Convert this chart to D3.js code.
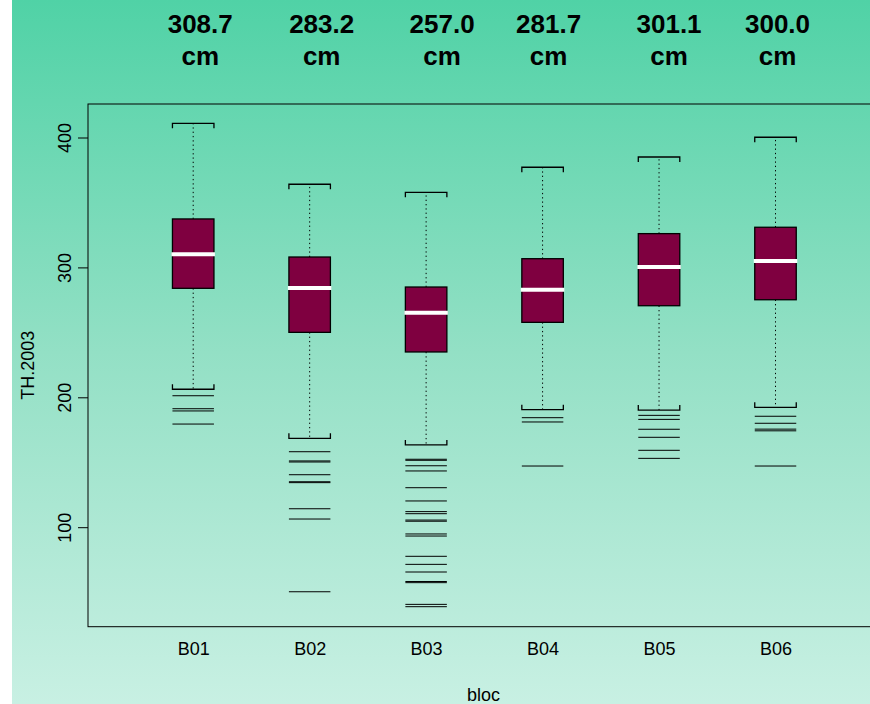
<!DOCTYPE html>
<html>
<head>
<meta charset="utf-8">
<script src="https://cdn.jsdelivr.net/npm/d3@7"></script>
<style>
  html, body { margin: 0; padding: 0; background: #ffffff; }
  svg { display: block; font-family: "Liberation Sans", Arial, Helvetica, sans-serif; }
</style>
</head>
<body>
<svg id="chart" width="870" height="704"></svg>
<script>
// Tree height in 2003 (cm) by bloc: box statistics, outliers and mean labels
const categories  = ["B01", "B02", "B03", "B04", "B05", "B06"];
const meanLabels  = ["308.7", "283.2", "257.0", "281.7", "301.1", "300.0"];
const whiskerLow  = [206.2, 168.4, 163.3, 190.5, 190.2, 192.3];
const q1          = [283.9, 250.0, 234.9, 257.7, 270.5, 275.1];
const medians     = [310.1, 284.1, 265.1, 282.8, 300.3, 304.9];
const q3          = [337.3, 308.0, 284.9, 306.7, 326.0, 330.9];
const whiskerHigh = [410.9, 364.0, 357.8, 377.1, 385.0, 400.2];
const outliersB01 = [201.2, 191.2, 189.5, 179.4];
const outliersB02 = [158.1, 151.0, 150.2, 140.4, 135.0, 134.3, 114.2, 106.3, 50.3];
const outliersB03 = [152.3, 151.5, 147.3, 143.3, 130.4, 120.2, 112.0, 110.4, 105.5, 104.6,
                     94.8, 93.2, 77.6, 71.4, 65.5, 58.2, 57.3, 40.6, 38.8];
const outliersB04 = [184.3, 181.0, 147.1];
const outliersB05 = [186.1, 183.0, 175.4, 169.2, 159.2, 153.0];
const outliersB06 = [185.4, 180.0, 175.5, 174.2, 147.1];
const yTicks      = [100, 200, 300, 400];

const outliers = [outliersB01, outliersB02, outliersB03, outliersB04, outliersB05, outliersB06];

const svg = d3.select("#chart");
const W = 870, H = 704;

// background: white margin on the left, vertical green gradient elsewhere
const defs = svg.append("defs");
const grad = defs.append("linearGradient")
  .attr("id", "bg").attr("x1", 0).attr("y1", 0).attr("x2", 0).attr("y2", 1);
grad.append("stop").attr("offset", "0%").attr("stop-color", "#50d2a6");
grad.append("stop").attr("offset", "50%").attr("stop-color", "#93e0c5");
grad.append("stop").attr("offset", "100%").attr("stop-color", "#c8f0e3");
svg.append("rect").attr("x", 0).attr("y", 0).attr("width", W).attr("height", H).attr("fill", "#ffffff");
svg.append("rect").attr("x", 12).attr("y", 0).attr("width", W - 12).attr("height", H).attr("fill", "url(#bg)");

// plot region
const plot = { left: 88, top: 104, right: 879, bottom: 626.7 };

const x = d3.scaleLinear().domain([1, 6]).range([193.2, 775.5]);
const y = d3.scaleLinear().domain([100, 400]).range([527.2, 137.5]);
const boxW = 41.5;

const groups = categories.map((c, i) => ({
  name: c, pos: i + 1,
  lo: whiskerLow[i], q1: q1[i], med: medians[i], q3: q3[i], hi: whiskerHigh[i],
  out: outliers[i]
}));

const g = svg.append("g");

const box = g.selectAll("g.box").data(groups).join("g").attr("class", "box");

// dotted whiskers
box.append("line")
  .attr("x1", d => x(d.pos)).attr("x2", d => x(d.pos))
  .attr("y1", d => y(d.q3)).attr("y2", d => y(d.hi))
  .attr("stroke", "#000").attr("stroke-width", 1).attr("stroke-dasharray", "1.3,3");
box.append("line")
  .attr("x1", d => x(d.pos)).attr("x2", d => x(d.pos))
  .attr("y1", d => y(d.q1)).attr("y2", d => y(d.lo))
  .attr("stroke", "#000").attr("stroke-width", 1).attr("stroke-dasharray", "1.3,3");

// bracket-shaped staples
const capTick = 5;
box.append("path")
  .attr("d", d => {
    const l = x(d.pos) - boxW / 2, r = x(d.pos) + boxW / 2, yy = y(d.hi);
    return `M${l},${yy + capTick}V${yy}H${r}V${yy + capTick}`;
  })
  .attr("fill", "none").attr("stroke", "#000").attr("stroke-width", 1.3);
box.append("path")
  .attr("d", d => {
    const l = x(d.pos) - boxW / 2, r = x(d.pos) + boxW / 2, yy = y(d.lo);
    return `M${l},${yy - capTick}V${yy}H${r}V${yy - capTick}`;
  })
  .attr("fill", "none").attr("stroke", "#000").attr("stroke-width", 1.3);

// boxes
box.append("rect")
  .attr("x", d => x(d.pos) - boxW / 2)
  .attr("y", d => y(d.q3))
  .attr("width", boxW)
  .attr("height", d => y(d.q1) - y(d.q3))
  .attr("fill", "#7f0040").attr("stroke", "#000").attr("stroke-width", 1.3);

// white medians
box.append("line")
  .attr("x1", d => x(d.pos) - boxW / 2 - 1).attr("x2", d => x(d.pos) + boxW / 2 + 1)
  .attr("y1", d => y(d.med)).attr("y2", d => y(d.med))
  .attr("stroke", "#ffffff").attr("stroke-width", 4);

// outliers drawn as horizontal dashes
box.each(function(d) {
  d3.select(this).selectAll("line.out").data(d.out).join("line")
    .attr("class", "out")
    .attr("x1", x(d.pos) - boxW / 2).attr("x2", x(d.pos) + boxW / 2)
    .attr("y1", v => y(v)).attr("y2", v => y(v))
    .attr("stroke", "#000").attr("stroke-width", 1);
});

// frame
svg.append("rect")
  .attr("x", plot.left).attr("y", plot.top)
  .attr("width", plot.right - plot.left).attr("height", plot.bottom - plot.top)
  .attr("fill", "none").attr("stroke", "#000").attr("stroke-width", 1);

// y axis
const yAxis = svg.append("g")
  .attr("transform", `translate(${plot.left},0)`)
  .call(d3.axisLeft(y).tickValues(yTicks).tickSize(10).tickFormat(d3.format("d")));
yAxis.select(".domain").remove();
yAxis.selectAll(".tick line").attr("stroke", "#000");
yAxis.selectAll(".tick text")
  .attr("x", null).attr("dy", null)
  .attr("text-anchor", "middle")
  .attr("transform", "translate(-17.5,0) rotate(-90)")
  .attr("font-size", 18).attr("font-family", "Liberation Sans, Arial, sans-serif")
  .attr("fill", "#000");

// x axis labels (no ticks)
const xAxis = svg.append("g")
  .attr("transform", `translate(0,${plot.bottom})`)
  .call(d3.axisBottom(x).tickValues(d3.range(1, 7)).tickSize(0)
    .tickFormat(d => categories[d - 1]));
xAxis.select(".domain").remove();
xAxis.selectAll(".tick text")
  .attr("y", 28.3).attr("dy", null)
  .attr("font-size", 18).attr("font-family", "Liberation Sans, Arial, sans-serif")
  .attr("fill", "#000");

// axis titles
svg.append("text")
  .attr("x", (plot.left + plot.right) / 2).attr("y", 701)
  .attr("text-anchor", "middle").attr("font-size", 18).text("bloc");
svg.append("text")
  .attr("transform", `translate(33.5,${(plot.top + plot.bottom) / 2}) rotate(-90)`)
  .attr("text-anchor", "middle").attr("font-size", 18).text("TH.2003");

// mean labels above each bloc
const labelNudge = [7, 12, 16, 6, 10, 2];
const mean = svg.append("g").selectAll("text.mean").data(meanLabels).join("text")
  .attr("class", "mean")
  .attr("text-anchor", "middle")
  .attr("font-size", 26).attr("font-weight", "bold")
  .attr("transform", (d, i) => `translate(${x(i + 1) + labelNudge[i]},0)`);
mean.append("tspan").attr("x", 0).attr("y", 33.3).text(d => d);
mean.append("tspan").attr("x", 0).attr("y", 65).text("cm");
</script>
</body>
</html>
